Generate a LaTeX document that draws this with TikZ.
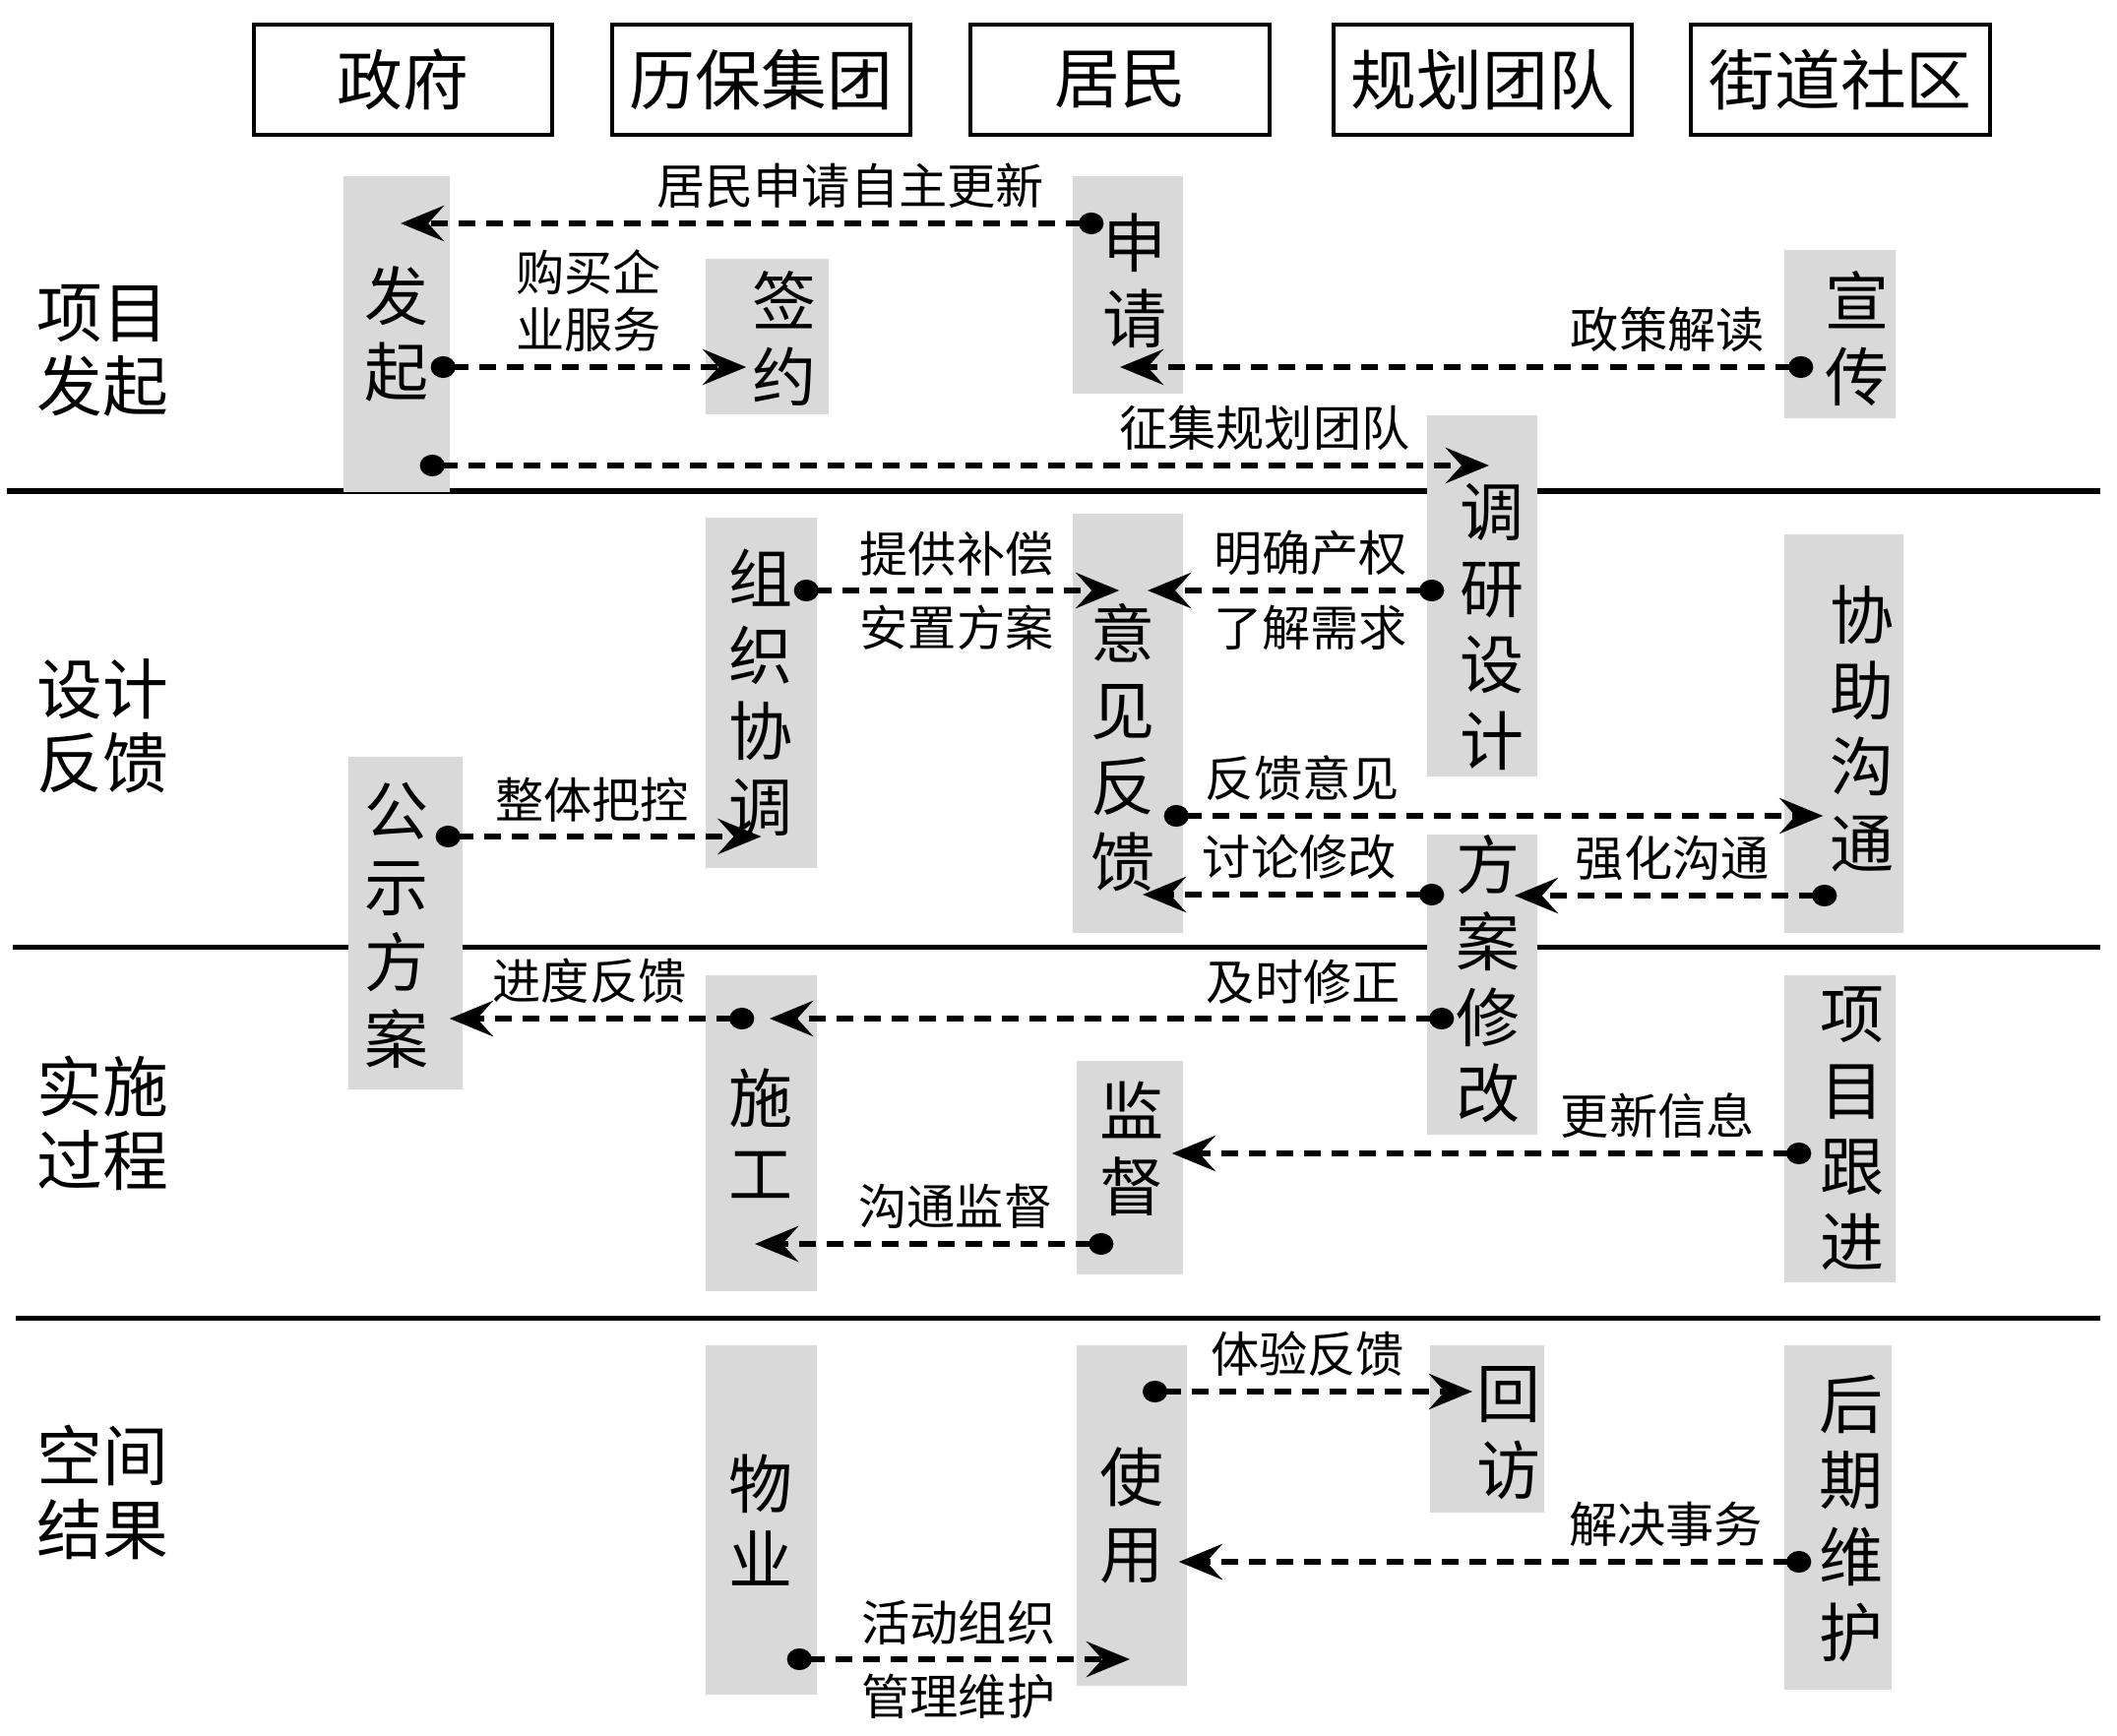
\documentclass[tikz,border=0pt]{standalone}
\usepackage{fontspec}
\setmainfont{Noto Sans CJK SC}
\usetikzlibrary{arrows.meta,calc}

\tikzset{
  actor/.style={draw, line width=1.1pt, minimum width=3.03cm, minimum height=1.12cm, inner sep=0pt, font=\fontsize{19pt}{22pt}\selectfont},
  lane/.style={fill=black!15, inner sep=0pt, align=center, font=\fontsize{18.5pt}{22pt}\selectfont},
  vtext/.style={align=center, inner sep=0pt, font=\fontsize{18.5pt}{22pt}\selectfont},
  phase/.style={align=left, anchor=west, inner sep=0pt, font=\fontsize{19pt}{21.3pt}\selectfont},
  msg/.style={align=center, font=\fontsize{14pt}{16.5pt}\selectfont},
  flow/.style={line width=1.9pt, dash pattern=on 0.17cm off 0.11cm, {Circle[length=0.25cm,width=0.22cm]}-{Stealth[length=0.44cm,width=0.36cm,inset=0.16cm]}}
}

\begin{document}
\begin{tikzpicture}[x=0.01cm, y=-0.01cm]
      \useasboundingbox (0,0) rectangle (2151,1764);

      \node[actor] (ZF) at (409.5,81) {政府};
      \node[actor] (LB) at (773.5,81) {历保集团};
      \node[actor] (JM) at (1138,81) {居民};
      \node[actor] (GH) at (1506.5,81) {规划团队};
      \node[actor] (JS) at (1870,81) {街道社区};

      \draw[line width=0.05cm] (7,499) -- (2134,499);
      \draw[line width=0.05cm] (13,962) -- (2134,962);
      \draw[line width=0.05cm] (16,1339) -- (2134,1339);

      \node[phase] (P1) at (37,356) {项目\\发起};
      \node[phase] (P2) at (37,738) {设计\\反馈};
      \node[phase] (P3) at (37,1141) {实施\\过程};
      \node[phase] (P4) at (37,1516) {空间\\结果};

      \node[lane, minimum width=1.08cm, minimum height=3.21cm] (FQ) at (403,339.5) {发\\起};
      \node[lane, minimum width=1.25cm, minimum height=1.58cm] (QY) at (779.5,342) {};
      \node[vtext] at (797,344) {签\\约};
      \node[lane, minimum width=1.12cm, minimum height=2.21cm] (SQ) at (1146,289.5) {};
      \node[vtext] at (1153,285) {申\\请};
      \node[lane, minimum width=1.13cm, minimum height=1.71cm] (XC) at (1869.5,339.5) {};
      \node[vtext] at (1887,344) {宣\\传};
      \node[lane, minimum width=1.12cm, minimum height=3.67cm] (DY) at (1506,605.5) {};
      \node[vtext] at (1516,637) {调\\研\\设\\计};
      \node[lane, minimum width=1.13cm, minimum height=3.56cm] (ZZ) at (773.5,704) {组\\织\\协\\调};
      \node[lane, minimum width=1.16cm, minimum height=3.38cm] (GS) at (412,938) {};
      \node[vtext] at (403,940) {公\\示\\方\\案};
      \node[lane, minimum width=1.12cm, minimum height=4.26cm] (YJ) at (1146,735) {};
      \node[vtext] at (1141,760) {意\\见\\反\\馈};
      \node[lane, minimum width=1.21cm, minimum height=4.05cm] (XZ) at (1873.5,745.5) {};
      \node[vtext] at (1892,740) {协\\助\\沟\\通};
      \node[lane, minimum width=1.12cm, minimum height=3.05cm] (FA) at (1506,1000.5) {};
      \node[vtext] at (1512,995) {方\\案\\修\\改};
      \node[lane, minimum width=1.13cm, minimum height=3.21cm] (SG) at (773.5,1151.5) {施\\工};
      \node[lane, minimum width=1.08cm, minimum height=2.17cm] (JD) at (1148,1186.5) {};
      \node[vtext] at (1150,1167) {监\\督};
      \node[lane, minimum width=1.13cm, minimum height=3.12cm] (GJ) at (1869.5,1147) {};
      \node[vtext] at (1882,1147) {项\\目\\跟\\进};
      \node[lane, minimum width=1.13cm, minimum height=3.55cm] (WY) at (773.5,1544.5) {物\\业};
      \node[lane, minimum width=1.12cm, minimum height=3.46cm] (SY) at (1150,1540) {使\\用};
      \node[lane, minimum width=1.16cm, minimum height=1.70cm] (HF) at (1511,1452) {};
      \node[vtext] at (1533,1456) {回\\访};
      \node[lane, minimum width=1.09cm, minimum height=3.50cm] (HQ) at (1867.5,1542) {};
      \node[vtext] at (1881,1543) {后\\期\\维\\护};

      \draw[flow] ($(SQ.west|-0,227)+(32,0)$) to node[msg, pos=.36, above] {居民申请自主更新} ($(FQ.center|-0,227)+(4,0)$);
      \draw[flow] ($(FQ.east|-0,373)+(-20,0)$) to node[msg, midway, above] {购买企\\业服务} ($(QY.west|-0,373)+(42,0)$);
      \draw[flow] ($(FQ.east|-0,473)+(-31,0)$) to node[msg, pos=.79, above] {征集规划团队} ($(DY.center|-0,473)+(7,0)$);
      \draw[flow] ($(XC.west|-0,373)+(30,0)$) to node[msg, pos=.21, above] {政策解读} ($(SQ.center|-0,373)+(-8,0)$);

      \draw[flow] ($(ZZ.east|-0,600)+(-24,0)$) to node[msg, midway, above] {提供补偿} node[msg, midway, below] {安置方案} ($(YJ.west|-0,600)+(48,0)$);
      \draw[flow] ($(DY.west|-0,600)+(18,0)$) to node[msg, pos=.45, above] {明确产权} node[msg, pos=.45, below] {了解需求} ($(YJ.center|-0,600)+(20,0)$);
      \draw[flow] ($(GS.east|-0,850)+(-28,0)$) to node[msg, pos=.48, above] {整体把控} (ZZ.center|-0,850);
      \draw[flow] ($(YJ.east|-0,829)+(-20,0)$) to node[msg, pos=.21, above] {反馈意见} ($(XZ.west|-0,829)+(40,0)$);
      \draw[flow] ($(FA.west|-0,909)+(18,0)$) to node[msg, pos=.48, above] {讨论修改} ($(YJ.center|-0,909)+(15,0)$);
      \draw[flow] ($(XZ.west|-0,910)+(54,0)$) to node[msg, pos=.51, above] {强化沟通} ($(FA.east|-0,910)+(-24,0)$);

      \draw[flow] ($(SG.west|-0,1035)+(50,0)$) to node[msg, pos=.54, above] {进度反馈} ($(GS.east|-0,1035)+(-14,0)$);
      \draw[flow] ($(FA.west|-0,1035)+(28,0)$) to node[msg, pos=.22, above] {及时修正} ($(SG.center|-0,1035)+(8.5,0)$);
      \draw[flow] ($(GJ.west|-0,1172)+(28,0)$) to node[msg, pos=.24, above] {更新信息} ($(JD.east|-0,1172)+(-12,0)$);
      \draw[flow] ($(JD.west|-0,1264)+(38,0)$) to node[msg, pos=.44, above] {沟通监督} ($(SG.center|-0,1264)+(-6.5,0)$);

      \draw[flow] ($(SY.center|-0,1414)+(11,0)$) to node[msg, midway, above] {体验反馈} ($(HF.center|-0,1414)+(-15,0)$);
      \draw[flow] ($(HQ.west|-0,1587)+(28,0)$) to node[msg, pos=.23, above] {解决事务} ($(SY.east|-0,1587)+(-9,0)$);
      \draw[flow] ($(WY.east|-0,1686)+(-31,0)$) to node[msg, midway, above] {活动组织} node[msg, midway, below] {管理维护} ($(SY.center|-0,1686)+(-2,0)$);
    \end{tikzpicture}
\end{document}
